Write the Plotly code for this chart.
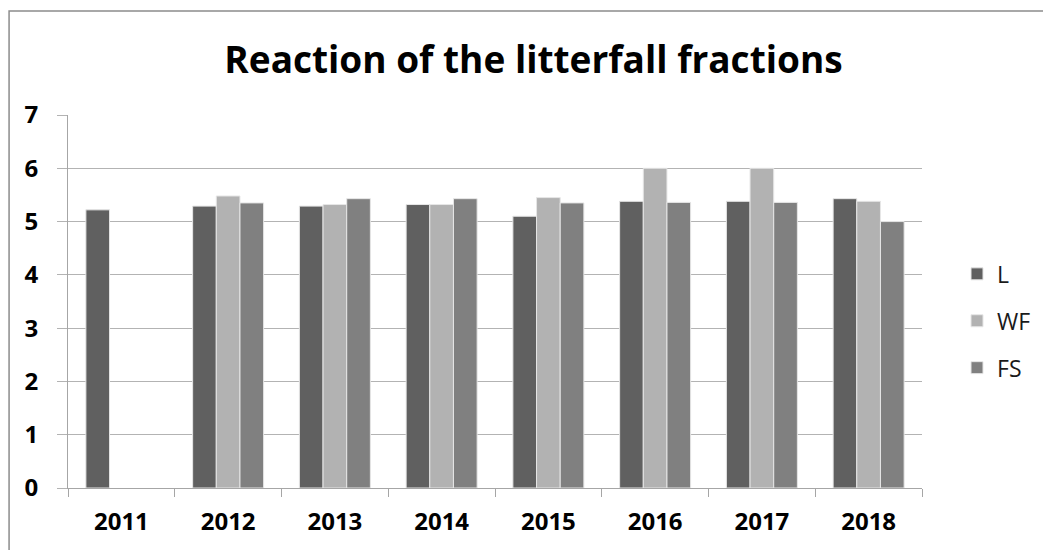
import plotly.graph_objects as go

years = ["2011", "2012", "2013", "2014", "2015", "2016", "2017", "2018"]
l_vals = [5.22, 5.29, 5.29, 5.32, 5.10, 5.38, 5.38, 5.43]
wf_vals = [None, 5.48, 5.32, 5.32, 5.45, 6.0, 6.0, 5.38]
fs_vals = [None, 5.35, 5.43, 5.43, 5.35, 5.36, 5.36, 5.0]

series = [("L", l_vals, "#606060"), ("WF", wf_vals, "#b2b2b2"), ("FS", fs_vals, "#808080")]

fig = go.Figure()
for name, vals, color in series:
    fig.add_trace(go.Bar(
        x=years, y=vals, name=name, legendgroup=name,
        marker=dict(color=color, line=dict(color="#e6e6e6", width=1)),
    ))

# page body has an 8px margin, so the margins are shifted to compensate
fig.update_layout(
    width=1051, height=550,
    margin=dict(l=60, r=137, t=107, b=70),
    paper_bgcolor="white", plot_bgcolor="white",
    barmode="group", bargap=0.335, bargroupgap=0,
    font=dict(family="Open Sans, Liberation Sans, sans-serif", color="#000000"),
    title=dict(text="<b>Reaction of the litterfall fractions</b>", x=0.5, xanchor="center",
               y=0.905, yanchor="middle", font=dict(size=37, family="Open Sans", color="#000000")),
    legend=dict(x=1.041, y=0.448, xref="paper", yref="paper", xanchor="left", yanchor="middle",
                tracegroupgap=14, font=dict(size=23, color="#1a1a1a"), itemwidth=30),
    showlegend=True,
)
fig.update_xaxes(
    type="category", showline=True, linecolor="#a6a6a6", linewidth=1,
    ticks="outside", tickson="boundaries", ticklen=8, tickcolor="#a6a6a6",
    ticklabelstandoff=12,
    tickfont=dict(size=24, family="Open Sans", color="#000000"), tickprefix="<b>", ticksuffix="</b>",
    showgrid=False,
)
fig.update_yaxes(
    range=[0, 7], dtick=1, showline=True, linecolor="#a6a6a6", linewidth=1,
    showgrid=True, gridcolor="#b3b3b3", gridwidth=1, zeroline=False,
    ticks="outside", ticklen=10, tickcolor="#b3b3b3", ticklabelstandoff=14,
    tickfont=dict(size=24, family="Open Sans", color="#000000"), tickprefix="<b>", ticksuffix="</b>",
)
fig.add_shape(type="rect", xref="paper", yref="paper",
              x0=-0.069, x1=1.2, y0=-0.2, y1=1.279,
              line=dict(color="#8c8c8c", width=1.5), fillcolor="rgba(0,0,0,0)", layer="below")

fig.write_html("out.html")
